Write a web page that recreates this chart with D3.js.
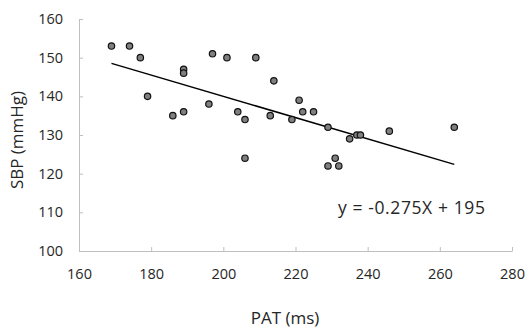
<!DOCTYPE html>
<html>
<head>
<meta charset="utf-8">
<script src="https://cdn.jsdelivr.net/npm/d3@7"></script>
<style>
  html, body { margin: 0; padding: 0; background: #fff; }
  svg { display: block; }
</style>
</head>
<body>
<script>
// ---- data ----
const pat = [169, 174, 177, 179, 186, 189, 189, 189, 196, 197, 201, 204, 206, 206, 209,
             213, 214, 219, 221, 222, 225, 229, 229, 231, 232, 235, 237, 238, 246, 264];
const sbp = [153, 153, 150, 140, 135, 147, 146, 136, 138, 151, 150, 136, 134, 124, 150,
             135, 144, 134, 139, 136, 136, 132, 122, 124, 122, 129, 130, 130, 131, 132];
const xTicks = [160, 180, 200, 220, 240, 260, 280];
const yTicks = [100, 110, 120, 130, 140, 150, 160];
const trendSlope = [-0.275];
const trendIntercept = [195];
const equationText = "y = -0.275X + 195";
const xTitle = "PAT (ms)";
const yTitle = "SBP (mmHg)";

const W = 531, H = 331;
const svg = d3.select("body").append("svg").attr("width", W).attr("height", H);

const x = d3.scaleLinear().domain([160, 280]).range([79, 512]);
const y = d3.scaleLinear().domain([100, 160]).range([251, 19]);

const font = "'Open Sans', 'Liberation Sans', sans-serif";
const axisColor = "#bfbfbf";
const textColor = "#262626";

// y axis
const gy = svg.append("g").attr("transform", `translate(${x(160)},0)`)
  .call(d3.axisLeft(y).tickValues(yTicks).tickSizeInner(-4).tickSizeOuter(0).tickPadding(16).tickFormat(d3.format("d")));
gy.select(".domain").attr("stroke", axisColor).attr("stroke-width", 1);
gy.selectAll(".tick line").attr("stroke", axisColor);
gy.selectAll(".tick text").attr("font-family", font).attr("font-size", "14.5px").attr("fill", textColor);

// x axis
const gx = svg.append("g").attr("transform", `translate(0,${y(100)})`)
  .call(d3.axisBottom(x).tickValues(xTicks).tickSizeInner(-4).tickSizeOuter(0).tickPadding(0).tickFormat(d3.format("d")));
gx.select(".domain").attr("stroke", axisColor).attr("stroke-width", 1);
gx.selectAll(".tick line").attr("stroke", axisColor);
gx.selectAll(".tick text").attr("font-family", font).attr("font-size", "14.5px").attr("fill", textColor)
  .attr("y", 28).attr("dy", null);

// trend line
const xMin = d3.min(pat), xMax = d3.max(pat);
const trend = [xMin, xMax].map(v => [v, trendSlope[0] * v + trendIntercept[0]]);
svg.append("path")
  .attr("d", d3.line().x(d => x(d[0])).y(d => y(d[1]))(trend))
  .attr("stroke", "#000").attr("stroke-width", 1.5).attr("fill", "none");

// points
svg.append("g").selectAll("circle")
  .data(pat.map((p, i) => [p, sbp[i]]))
  .join("circle")
  .attr("cx", d => x(d[0]))
  .attr("cy", d => y(d[1]))
  .attr("r", 3.2)
  .attr("fill", "#7f7f7f")
  .attr("stroke", "#111")
  .attr("stroke-width", 1.2);

// equation
svg.append("text")
  .attr("x", 338).attr("y", 214)
  .attr("font-family", font).attr("font-size", "17.5px").attr("fill", textColor)
  .attr("letter-spacing", "0.6px")
  .text(equationText);

// axis titles
svg.append("text")
  .attr("x", 285).attr("y", 324)
  .attr("text-anchor", "middle")
  .attr("font-family", font).attr("font-size", "17px").attr("fill", textColor)
  .text(xTitle);

svg.append("text")
  .attr("transform", "translate(23,140) rotate(-90)")
  .attr("text-anchor", "middle")
  .attr("font-family", font).attr("font-size", "17px").attr("fill", textColor)
  .text(yTitle);
</script>
</body>
</html>
